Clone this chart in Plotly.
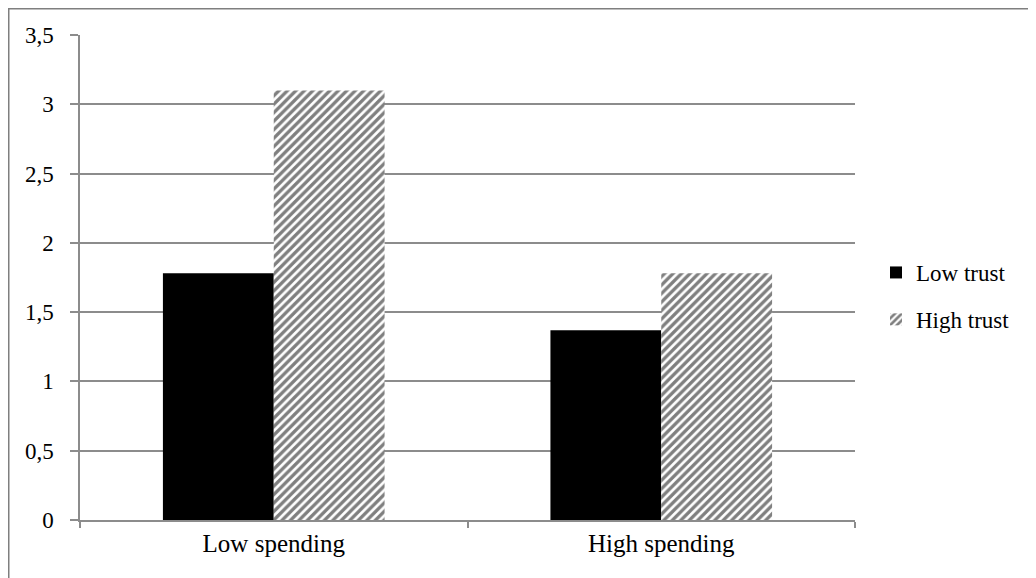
import plotly.graph_objects as go

categories = ["Low spending", "High spending"]
low_trust = [1.78, 1.37]
high_trust = [3.10, 1.78]
series_names = ["Low trust", "High trust"]
y_ticks = [0, 0.5, 1, 1.5, 2, 2.5, 3, 3.5]

FONT = "Liberation Serif"
GRID = "#8c8c8c"

fig = go.Figure()
fig.add_trace(go.Bar(
    x=categories, y=low_trust, name=series_names[0],
    marker=dict(color="black", line=dict(width=0)),
    legendgroup="a",
))
fig.add_trace(go.Bar(
    x=categories, y=high_trust, name=series_names[1],
    marker=dict(color="white", line=dict(width=0),
                pattern=dict(shape="/", fgcolor="black", bgcolor="white",
                             size=6, solidity=0.55)),
    legendgroup="b",
))

# page has an 8px body margin; figure coordinates = screenshot - 8
W, H = 1028, 570
L, T = 72, 27
pw, ph = 775, 485
R, B = W - L - pw, H - T - ph

fig.update_layout(
    width=W, height=H,
    margin=dict(l=L, r=R, t=T, b=B, autoexpand=False),
    paper_bgcolor="white", plot_bgcolor="white",
    barmode="group", bargap=0.428, bargroupgap=0,
    separators=",.",
    font=dict(family=FONT, size=23, color="black"),
    showlegend=True,
    legend=dict(x=(868 - L) / pw, y=(T + ph - 288) / ph, xanchor="left", yanchor="middle",
                font=dict(family=FONT, size=23, color="black"),
                traceorder="grouped", tracegroupgap=14,
                bgcolor="rgba(0,0,0,0)", itemwidth=30),
    xaxis=dict(
        showline=True, linecolor=GRID, linewidth=1.5,
        ticks="outside", ticklen=6, tickcolor=GRID, tickwidth=1.5,
        tickson="boundaries", showgrid=False,
        tickfont=dict(family=FONT, size=25, color="black"),
    ),
    yaxis=dict(
        range=[0, 3.5], tickvals=y_ticks, ticks="outside", ticklen=8,
        tickcolor=GRID, tickwidth=1.5,
        showline=True, linecolor=GRID, linewidth=1.5,
        showgrid=True, gridcolor=GRID, gridwidth=1.5,
        zeroline=False, ticklabelstandoff=12,
        tickfont=dict(family=FONT, size=23, color="black"),
    ),
    shapes=[dict(type="rect", xref="paper", yref="paper",
                 x0=(0.75 - L) / pw, x1=1.4, y0=-0.3, y1=1 + (T - 0.75) / ph,
                 line=dict(color="#7f7f7f", width=1.5), fillcolor="rgba(0,0,0,0)",
                 layer="below")],
)

fig.write_html("out.html")
